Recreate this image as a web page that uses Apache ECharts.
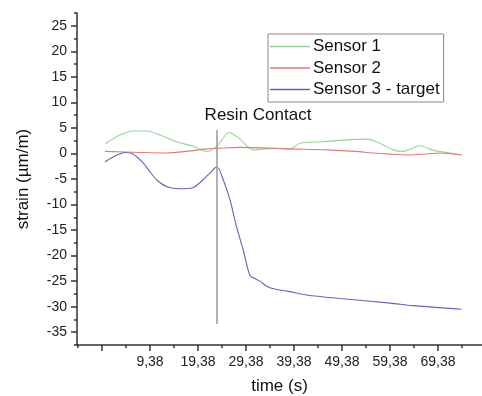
<!DOCTYPE html>
<html>
<head>
<meta charset="utf-8">
<script src="https://cdn.jsdelivr.net/npm/echarts@6/dist/echarts.min.js"></script>
<style>
  html, body { margin: 0; padding: 0; background: #fff; }
  #chart { width: 482px; height: 396px; }
</style>
</head>
<body>
<div id="chart"></div>
<script>
// time (s) / strain (µm/m)
var s1Time = [0.07, 3.13, 5.9, 8.7, 11.46, 14.94, 18.4, 21.19, 23.27, 25.9, 28.13, 30.9, 35.07, 38.55, 40.63, 45.48, 51.05, 54.5, 57.3, 60.07, 62.15, 65.63, 68.4, 71.88, 74.3];
var s1Val = [1.9, 3.6, 4.4, 4.4, 3.6, 2.3, 1.4, 0.4, 1.4, 4.1, 2.8, 0.7, 1.0, 0.9, 2.0, 2.3, 2.7, 2.8, 2.0, 0.7, 0.4, 1.5, 0.6, 0.1, -0.3];

var s2Time = [0, 7.3, 12.86, 17.0, 21.19, 23.27, 28.13, 38.55, 46.2, 52.2, 55.8, 62.9, 67.0, 69.8, 74.3];
var s2Val = [0.4, 0.2, 0.1, 0.4, 0.9, 1.0, 1.2, 0.9, 0.7, 0.4, 0.1, -0.3, -0.1, 0.1, -0.3];

var s3Time = [0.0, 1.67, 4.17, 5.8, 7.9, 9.38, 10.8, 12.9, 15.6, 18.3, 20.4, 21.9, 23.3, 24.65, 26.05, 27.4, 28.8, 30.2, 31.25, 32.3, 33.7, 35.1, 38.2, 42.0, 48.96, 59.4, 64.2, 74.3];
var s3Val = [-1.7, -0.7, 0.2, -0.1, -1.8, -3.6, -5.2, -6.5, -6.9, -6.7, -5.2, -3.8, -2.6, -5.2, -9.1, -14.3, -18.9, -23.9, -24.5, -25.0, -26.0, -26.5, -27.0, -27.7, -28.4, -29.3, -29.8, -30.5];

var resinTime = [23.34, 23.34];
var resinVal = [4.6, -33.4];

var seriesNames = ['Sensor 1', 'Sensor 2', 'Sensor 3 - target'];

var xMajorTicks = [-0.62, 9.38, 19.38, 29.38, 39.38, 49.38, 59.38, 69.38];
var xMinorTicks = [-5.62, 4.38, 14.38, 24.38, 34.38, 44.38, 54.38, 64.38, 74.38];
var xLabels = [9.38, 19.38, 29.38, 39.38, 49.38, 59.38, 69.38];
var yLabels = [-35, -30, -25, -20, -15, -10, -5, 0, 5, 10, 15, 20, 25];
var yMinorTicks = [-37.5, -32.5, -27.5, -22.5, -17.5, -12.5, -7.5, -2.5, 2.5, 7.5, 12.5, 17.5, 22.5, 27.5];

function zip(a, b) {
    var out = [];
    for (var i = 0; i < a.length; i++) {
        out.push([a[i], b[i]]);
    }
    return out;
}

var font = 'Arial, "Liberation Sans", sans-serif';
var axisColor = '#333';
var xMin = -5.83, xMax = 78.55;
var yMin = -37.5, yMax = 27.5;

var chart = echarts.init(document.getElementById('chart'), null, { renderer: 'canvas' });

var option = {
    animation: false,
    backgroundColor: '#fff',
    textStyle: { fontFamily: font },
    grid: { left: 77, top: 13, right: 0, bottom: 51, outerBoundsMode: 'none', containLabel: false },
    legend: {
        data: seriesNames,
        orient: 'vertical',
        left: 268,
        top: 34,
        padding: [3, 4, 3, 2],
        itemGap: 2.5,
        itemWidth: 40,
        itemHeight: 1.5,
        icon: 'rect',
        borderColor: '#888',
        borderWidth: 1,
        textStyle: { fontSize: 17, color: '#111', fontFamily: font, lineHeight: 19, padding: [0, 0, 0, -2] }
    },
    xAxis: [
        {
            type: 'value',
            min: xMin,
            max: xMax,
            position: 'bottom',
            name: 'time (s)',
            nameLocation: 'middle',
            nameGap: 33,
            nameTextStyle: { fontSize: 17, color: '#111', fontFamily: font },
            splitLine: { show: false },
            axisLine: { onZero: false, lineStyle: { color: axisColor, width: 1.5 } },
            axisTick: { customValues: xMajorTicks, length: 6, lineStyle: { color: axisColor, width: 1.5 } },
            axisLabel: {
                customValues: xLabels,
                margin: 10,
                fontSize: 14,
                color: '#222',
                formatter: function (v) { return v.toFixed(2).replace('.', ','); }
            }
        },
        {
            type: 'value',
            min: xMin,
            max: xMax,
            position: 'bottom',
            splitLine: { show: false },
            axisLine: { show: false, onZero: false },
            axisTick: { customValues: xMinorTicks, length: 3, lineStyle: { color: axisColor, width: 1.5 } },
            axisLabel: { show: false }
        }
    ],
    yAxis: [
        {
            type: 'value',
            min: yMin,
            max: yMax,
            position: 'left',
            name: 'strain (µm/m)',
            nameLocation: 'middle',
            nameGap: 45,
            nameTextStyle: { fontSize: 17, color: '#111', fontFamily: font },
            splitLine: { show: false },
            axisLine: { show: true, onZero: false, lineStyle: { color: axisColor, width: 1.5 } },
            axisTick: { show: true, customValues: yLabels, length: 6, lineStyle: { color: axisColor, width: 1.5 } },
            axisLabel: { customValues: yLabels, margin: 10, fontSize: 14, color: '#222' }
        },
        {
            type: 'value',
            min: yMin,
            max: yMax,
            position: 'left',
            splitLine: { show: false },
            axisLine: { show: false, onZero: false },
            axisTick: { show: true, customValues: yMinorTicks, length: 3, lineStyle: { color: axisColor, width: 1.5 } },
            axisLabel: { show: false }
        }
    ],
    series: [
        {
            name: seriesNames[0],
            type: 'line',
            symbol: 'none',
            smooth: 0.3,
            color: '#96d496',
            lineStyle: { color: '#96d496', width: 1.1 },
            data: zip(s1Time, s1Val)
        },
        {
            name: seriesNames[1],
            type: 'line',
            symbol: 'none',
            smooth: 0.3,
            color: '#e07a7a',
            lineStyle: { color: '#e07a7a', width: 1.1 },
            data: zip(s2Time, s2Val)
        },
        {
            name: seriesNames[2],
            type: 'line',
            symbol: 'none',
            smooth: 0.3,
            color: '#6464b4',
            lineStyle: { color: '#6464b4', width: 1.1 },
            data: zip(s3Time, s3Val)
        },
        {
            name: 'Resin Contact',
            type: 'line',
            symbol: 'none',
            silent: true,
            lineStyle: { color: '#999', width: 1.5 },
            data: zip(resinTime, resinVal),
            markPoint: {
                symbol: 'circle',
                symbolSize: 0,
                data: [{ coord: [resinTime[0], resinVal[0]] }],
                label: {
                    show: true,
                    position: 'top',
                    distance: 6,
                    offset: [41, 0],
                    formatter: 'Resin Contact',
                    fontSize: 17,
                    color: '#111',
                    fontFamily: font
                }
            }
        }
    ]
};

chart.setOption(option);
</script>
</body>
</html>
